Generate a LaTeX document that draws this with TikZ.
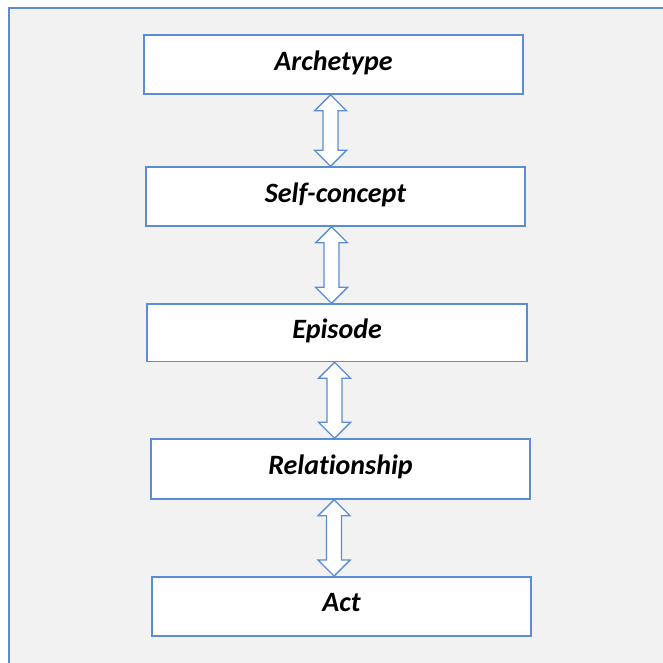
\documentclass[tikz,border=0pt]{standalone}
\usepackage{fontspec}
\setmainfont[Ligatures=CommonOff]{Carlito}
\usetikzlibrary{calc}
\definecolor{frameblue}{HTML}{5B8DD6}
\definecolor{panelgrey}{HTML}{F2F2F2}
\tikzset{
  level/.style={draw=frameblue, line width=1.5pt, fill=white, minimum height=59pt,
    inner sep=0pt, font=\fontsize{28}{32}\selectfont\bfseries\itshape,
    text height=18pt, text depth=7pt},
  twowayarrow/.style={draw=frameblue, line width=1.4pt, fill=white, line join=miter}
}
% hollow two-headed arrow from the bottom of one box to the top of the next,
% with its axis at the x of the given coordinate
\newcommand\twoway[3]{%
  \coordinate (t) at (#1.south -| #3);
  \coordinate (b) at (#2.north -| #3);
  \draw[twowayarrow] (t) -- ++(16,16) -- ++(-8.5,0) -- ($(b)+(7.5,-16)$)
    -- ++(8.5,0) -- (b) -- ++(-16,-16) -- ++(8.5,0) -- ($(t)+(-7.5,16)$)
    -- ++(-8.5,0) -- cycle;
}
\begin{document}
\begin{tikzpicture}[x=1pt, y=-1pt]
\useasboundingbox (0,0) rectangle (663,662);
\clip (0,0) rectangle (663,662);
\fill[white] (0,0) rectangle (663,662);
\draw[frameblue, line width=2pt, fill=panelgrey] (8.5,7.5) rectangle (700,700);

\node[level, minimum width=379pt] (arch) at (333.5,64.5) {Archetype};
\node[level, minimum width=379pt] (self) at (335.5,196.5) {Self-concept};
\node[level, minimum width=380pt, minimum height=57.5pt] (epi) at (337,332.75) {Episode};
\node[level, minimum width=379pt, minimum height=60pt] (rel) at (340.5,469) {Relationship};
\node[level, minimum width=379pt] (act) at (341.5,606.25) {Act};

\coordinate (ax1) at (330.5,0);
\coordinate (ax2) at (331.5,0);
\coordinate (ax3) at (334.5,0);
\coordinate (ax4) at (334,0);

\twoway{arch}{self}{ax1}
\twoway{self}{epi}{ax2}
\twoway{epi}{rel}{ax3}
\twoway{rel}{act}{ax4}
\end{tikzpicture}
\end{document}
